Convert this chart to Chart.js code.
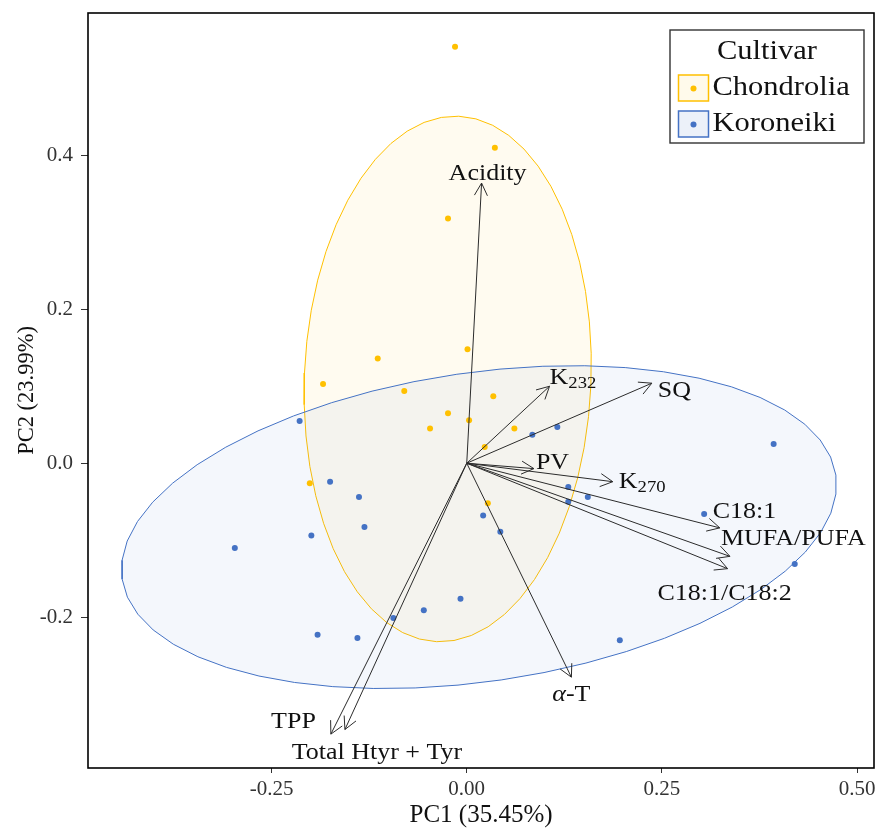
<!DOCTYPE html>
<html>
<head>
<meta charset="utf-8">
<title>PCA biplot - Cultivar</title>
<script src="https://cdn.jsdelivr.net/npm/chart.js"></script>
<style>
  html, body { margin: 0; padding: 0; background: #fff; }
  #wrap { width: 878px; height: 828px; }
</style>
</head>
<body>
<div id="wrap"><canvas id="biplot" width="878" height="828"></canvas></div>
<script>
// Scores (PC1, PC2)
const chondroliaPC1 = [-0.015, 0.036, -0.024, -0.114, -0.184, -0.080, 0.001, 0.034, -0.024, 0.003, -0.047, 0.023, 0.061, -0.201, 0.027];
const chondroliaPC2 = [0.541, 0.410, 0.318, 0.136, 0.103, 0.094, 0.148, 0.087, 0.065, 0.056, 0.045, 0.021, 0.045, -0.026, -0.052];

const koroneikiPC1 = [-0.214, -0.175, -0.138, -0.131, -0.199, -0.297, -0.191, -0.140, -0.094, -0.055, -0.008, 0.021, 0.043, 0.084, 0.116, 0.130, 0.130, 0.155, 0.304, 0.393, 0.420, 0.196];
const koroneikiPC2 = [0.055, -0.024, -0.044, -0.083, -0.094, -0.110, -0.223, -0.227, -0.201, -0.191, -0.176, -0.068, -0.089, 0.037, 0.047, -0.031, -0.050, -0.044, -0.066, 0.025, -0.131, -0.230];

// Loadings (arrow tips)
const loadingNames = ['Acidity', 'K_232', 'SQ', 'PV', 'K_270', 'C18:1', 'MUFA/PUFA', 'C18:1/C18:2', 'α-T', 'TPP', 'Total Htyr + Tyr'];
const loadingPC1 = [0.019, 0.106, 0.237, 0.086, 0.187, 0.324, 0.337, 0.334, 0.134, -0.174, -0.156];
const loadingPC2 = [0.364, 0.100, 0.104, -0.007, -0.024, -0.084, -0.121, -0.137, -0.278, -0.352, -0.346];

// Confidence ellipses: centre and two conjugate semi-axes
const chondroliaEllipseCenter = [-0.0244, 0.1095];
const chondroliaEllipseAxisA = [0.0141, 0.3414];
const chondroliaEllipseAxisB = [-0.1834, 0.0078];
const koroneikiEllipseCenter = [0.0157, -0.083];
const koroneikiEllipseAxisA = [0.4570, 0.0676];
const koroneikiEllipseAxisB = [-0.0284, 0.1986];

// Axis ticks
const xTicks = [-0.25, 0.00, 0.25, 0.50];
const yTicks = [-0.2, 0.0, 0.2, 0.4];

// Label placement (pixels from the arrow tip) - layout only
const labelLayout = [
  { dx: 6, dy: -11, align: 'center' },
  { dx: 0, dy: -10, align: 'left' },
  { dx: 6, dy: 6, align: 'left' },
  { dx: 2, dy: -7, align: 'left' },
  { dx: 6, dy: -1.5, align: 'left' },
  { dx: -7, dy: -17.5, align: 'left' },
  { dx: -9, dy: -18.5, align: 'left' },
  { dx: -3, dy: 24, align: 'center' },
  { dx: 0, dy: 16, align: 'center' },
  { dx: -15, dy: -14, align: 'right' },
  { dx: 32, dy: 21.5, align: 'center' }
];

const YELLOW = '#FFC000';
const BLUE = '#4472C4';
const FONT = "'Liberation Serif', 'Times New Roman', serif";
const SX = 1.13; // the figure text is slightly wide

function toPoints(xs, ys) {
  return xs.map((x, i) => ({ x: x, y: ys[i] }));
}

function ellipsePoints(center, a, b, n) {
  const pts = [];
  for (let i = 0; i <= n; i++) {
    const t = 2 * Math.PI * i / n;
    pts.push({
      x: center[0] + a[0] * Math.cos(t) + b[0] * Math.sin(t),
      y: center[1] + a[1] * Math.cos(t) + b[1] * Math.sin(t)
    });
  }
  return pts;
}

// split label into text segments (subscript / italic greek)
function labelSegments(name, size) {
  if (name.indexOf('_') > -1) {
    const parts = name.split('_');
    return [{ t: parts[0], size: size }, { t: parts[1], size: size * 0.72, dy: 4.5 }];
  }
  if (name.charAt(0) === 'α') {
    return [{ t: 'α', size: size, italic: true }, { t: name.slice(1), size: size }];
  }
  return [{ t: name, size: size }];
}

function drawRich(ctx, segs, x, centerY, align) {
  let w = 0;
  segs.forEach(s => {
    ctx.font = (s.italic ? 'italic ' : '') + s.size + 'px ' + FONT;
    s.w = ctx.measureText(s.t).width;
    w += s.w;
  });
  w *= SX;
  let x0 = x;
  if (align === 'center') x0 = x - w / 2;
  if (align === 'right') x0 = x - w;
  const baseline = centerY + segs[0].size * 0.33;
  ctx.save();
  ctx.translate(x0, baseline);
  ctx.scale(SX, 1);
  ctx.textBaseline = 'alphabetic';
  ctx.textAlign = 'left';
  let cx = 0;
  segs.forEach(s => {
    ctx.font = (s.italic ? 'italic ' : '') + s.size + 'px ' + FONT;
    ctx.fillText(s.t, cx, s.dy || 0);
    cx += s.w;
  });
  ctx.restore();
}

// no extra room for overhanging tick labels: the panel has fixed edges
function fixBox(scale, size) {
  if (scale.isHorizontal()) scale.height = size; else scale.width = size;
  scale.paddingTop = 0;
  scale.paddingBottom = 0;
  scale.paddingLeft = 0;
  scale.paddingRight = 0;
}

// arrows, labels, frame and legend
const biplotExtras = {
  id: 'biplotExtras',
  afterDatasetsDraw(chart) {
    const ctx = chart.ctx;
    const xs = chart.scales.x, ys = chart.scales.y;
    const ox = xs.getPixelForValue(0), oy = ys.getPixelForValue(0);
    ctx.save();
    ctx.strokeStyle = '#2b2b2b';
    ctx.lineWidth = 1;
    loadingNames.forEach((name, i) => {
      const tx = xs.getPixelForValue(loadingPC1[i]);
      const ty = ys.getPixelForValue(loadingPC2[i]);
      const ang = Math.atan2(ty - oy, tx - ox);
      const head = 14, spread = Math.PI / 6.5;
      ctx.beginPath();
      ctx.moveTo(ox, oy);
      ctx.lineTo(tx, ty);
      ctx.moveTo(tx - head * Math.cos(ang - spread), ty - head * Math.sin(ang - spread));
      ctx.lineTo(tx, ty);
      ctx.lineTo(tx - head * Math.cos(ang + spread), ty - head * Math.sin(ang + spread));
      ctx.stroke();
    });
    ctx.fillStyle = '#111';
    loadingNames.forEach((name, i) => {
      const tx = xs.getPixelForValue(loadingPC1[i]);
      const ty = ys.getPixelForValue(loadingPC2[i]);
      const lay = labelLayout[i];
      drawRich(ctx, labelSegments(name, 23), tx + lay.dx, ty + lay.dy, lay.align);
    });
    ctx.restore();
  },
  afterDraw(chart) {
    const ctx = chart.ctx;
    const area = chart.chartArea;
    ctx.save();
    // panel frame
    ctx.strokeStyle = '#000';
    ctx.lineWidth = 1.6;
    ctx.strokeRect(area.left, area.top, area.right - area.left, area.bottom - area.top);

    // legend
    const lx = 670, ly = 30, lw = 194, lh = 113;
    ctx.fillStyle = '#fff';
    ctx.fillRect(lx, ly, lw, lh);
    ctx.strokeStyle = '#333';
    ctx.lineWidth = 1.4;
    ctx.strokeRect(lx, ly, lw, lh);
    ctx.fillStyle = '#111';
    drawRich(ctx, [{ t: 'Cultivar', size: 27 }], lx + lw / 2, 50, 'center');

    const entries = [
      { label: 'Chondrolia', color: YELLOW, fill: 'rgba(255,192,0,0.08)', y: 75 },
      { label: 'Koroneiki', color: BLUE, fill: 'rgba(68,114,196,0.10)', y: 111 }
    ];
    entries.forEach(e => {
      ctx.fillStyle = e.fill;
      ctx.fillRect(678.5, e.y, 30, 26);
      ctx.strokeStyle = e.color;
      ctx.lineWidth = 1.5;
      ctx.strokeRect(678.5, e.y, 30, 26);
      ctx.fillStyle = e.color;
      ctx.beginPath();
      ctx.arc(693.5, e.y + 13.5, 3, 0, Math.PI * 2);
      ctx.fill();
      ctx.fillStyle = '#111';
      drawRich(ctx, [{ t: e.label, size: 27 }], 712.5, e.y + 11, 'left');
    });
    ctx.restore();
  }
};

Chart.defaults.font.family = FONT;

const ctx = document.getElementById('biplot').getContext('2d');
const chart = new Chart(ctx, {
  type: 'scatter',
  data: {
    datasets: [
      {
        label: 'Chondrolia',
        data: toPoints(chondroliaPC1, chondroliaPC2),
        backgroundColor: YELLOW,
        borderWidth: 0,
        pointRadius: 3,
        order: 1
      },
      {
        label: 'Koroneiki',
        data: toPoints(koroneikiPC1, koroneikiPC2),
        backgroundColor: BLUE,
        borderWidth: 0,
        pointRadius: 3,
        order: 0
      },
      {
        label: 'Chondrolia ellipse',
        data: ellipsePoints(chondroliaEllipseCenter, chondroliaEllipseAxisA, chondroliaEllipseAxisB, 52),
        showLine: true,
        fill: 'shape',
        borderColor: YELLOW,
        backgroundColor: 'rgba(255,192,0,0.06)',
        borderWidth: 1,
        pointRadius: 0,
        tension: 0,
        order: 6
      },
      {
        label: 'Koroneiki ellipse',
        data: ellipsePoints(koroneikiEllipseCenter, koroneikiEllipseAxisA, koroneikiEllipseAxisB, 52),
        showLine: true,
        fill: 'shape',
        borderColor: BLUE,
        backgroundColor: 'rgba(68,114,196,0.06)',
        borderWidth: 1,
        pointRadius: 0,
        tension: 0,
        order: 5
      }
    ]
  },
  options: {
    responsive: false,
    animation: false,
    layout: { padding: { top: 13, right: 2, left: 0, bottom: 0 } },
    plugins: {
      legend: { display: false },
      tooltip: { enabled: false }
    },
    scales: {
      x: {
        type: 'linear',
        min: -0.485,
        max: 0.5215,
        afterFit: function(scale) { fixBox(scale, 60); },
        afterBuildTicks: function(scale) { scale.ticks = xTicks.map(v => ({ value: v })); },
        grid: { display: true, drawOnChartArea: false, tickLength: 5, color: '#333' },
        border: { display: false },
        ticks: {
          autoSkip: false,
          maxRotation: 0,
          padding: 4,
          color: '#333',
          font: { size: 21 },
          callback: function(v) { return Number(v).toFixed(2); }
        },
        title: {
          display: true,
          text: 'PC1 (35.45%)',
          color: '#111',
          font: { size: 25, lineHeight: 1 },
          padding: { top: 0, bottom: 0.5 }
        }
      },
      y: {
        type: 'linear',
        min: -0.396,
        max: 0.585,
        afterFit: function(scale) { fixBox(scale, 88); },
        afterBuildTicks: function(scale) { scale.ticks = yTicks.map(v => ({ value: v })); },
        grid: { display: true, drawOnChartArea: false, tickLength: 7, color: '#333' },
        border: { display: false },
        ticks: {
          autoSkip: false,
          padding: 8,
          color: '#333',
          font: { size: 21 },
          callback: function(v) { return Number(v).toFixed(1); }
        },
        title: {
          display: true,
          text: 'PC2 (23.99%)',
          color: '#111',
          font: { size: 22.5, lineHeight: 1.2 },
          padding: { top: 14, bottom: 0 }
        }
      }
    }
  },
  plugins: [biplotExtras]
});
</script>
</body>
</html>
